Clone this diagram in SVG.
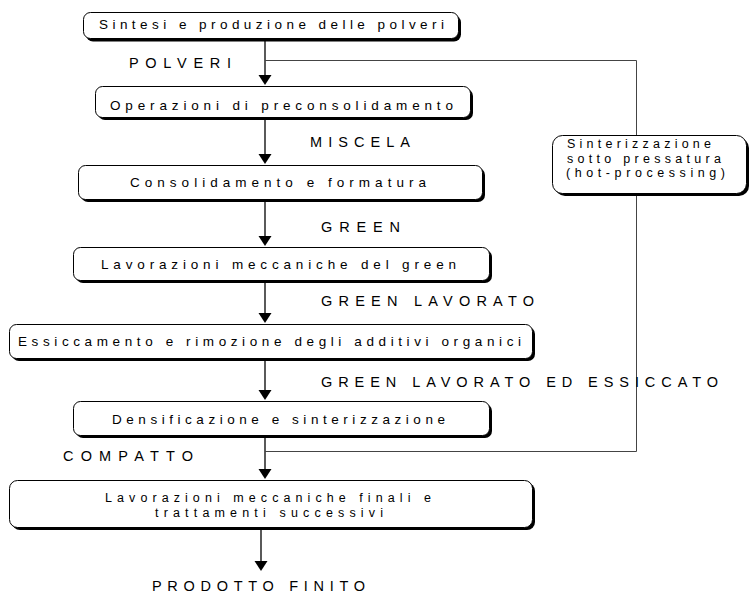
<svg xmlns="http://www.w3.org/2000/svg" width="750" height="595" viewBox="0 0 750 595">
<style>
.box{fill:#fff;stroke:#000;stroke-width:1}
.sh{fill:#000}
.t{font-family:"Liberation Sans",Arial,sans-serif;font-size:13.5px;fill:#000}
.s{font-family:"Liberation Sans",Arial,sans-serif;font-size:12.5px;fill:#000}
.l{font-family:"Liberation Sans",Arial,sans-serif;font-size:14.5px;fill:#000}
.ln{stroke:#000;stroke-width:1.3;fill:none}
.fb{stroke:#444;stroke-width:1;fill:none}
.hd{fill:#000}
</style>
<rect width="750" height="595" fill="#fff"/>
<g id="connectors">
<path class="ln" d="M265,41V76"/><polygon class="hd" points="258.5,75 271.5,75 265,85"/>
<path class="ln" d="M265,120V155"/><polygon class="hd" points="258.5,154 271.5,154 265,164"/>
<path class="ln" d="M265,202V237"/><polygon class="hd" points="258.5,236 271.5,236 265,246"/>
<path class="ln" d="M265,283V314"/><polygon class="hd" points="258.5,313 271.5,313 265,323"/>
<path class="ln" d="M265,361V391"/><polygon class="hd" points="258.5,390 271.5,390 265,400"/>
<path class="ln" d="M265,438V470"/><polygon class="hd" points="258.5,469 271.5,469 265,479"/>
<path class="ln" d="M261,530V562"/><polygon class="hd" points="254.5,561 267.5,561 261,571"/>
<path class="fb" d="M265,60.5H636.5V135"/>
<path class="fb" d="M636.5,196V451.5H265"/>
</g>
<g id="lbl-polveri"><text class="l" x="129" y="68" textLength="102" lengthAdjust="spacing">POLVERI</text></g>
<g id="lbl-miscela"><text class="l" x="310" y="147" textLength="100" lengthAdjust="spacing">MISCELA</text></g>
<g id="lbl-green"><text class="l" x="321" y="232" textLength="79" lengthAdjust="spacing">GREEN</text></g>
<g id="lbl-green-lav"><text class="l" x="321" y="306" textLength="213" lengthAdjust="spacing">GREEN LAVORATO</text></g>
<g id="lbl-green-ess"><text class="l" x="321" y="387" textLength="397" lengthAdjust="spacing">GREEN LAVORATO ED ESSICCATO</text></g>
<g id="lbl-compatto"><text class="l" x="63" y="461" textLength="130" lengthAdjust="spacing">COMPATTO</text></g>
<g id="lbl-prodotto"><text class="l" x="152" y="591" textLength="213" lengthAdjust="spacing">PRODOTTO FINITO</text></g>
<g id="n1">
<rect class="sh" x="86" y="15.5" width="375" height="26" rx="7"/>
<rect class="box" x="83.5" y="12.5" width="375" height="26" rx="7"/>
<text class="t" x="99" y="28.5" textLength="345" lengthAdjust="spacing">Sintesi e produzione delle polveri</text>
</g>
<g id="n2">
<rect class="sh" x="98" y="89" width="375" height="31" rx="7"/>
<rect class="box" x="95.5" y="86.5" width="375" height="31" rx="7"/>
<text class="t" x="110" y="110" textLength="343" lengthAdjust="spacing">Operazioni di preconsolidamento</text>
</g>
<g id="n3">
<rect class="sh" x="81" y="168" width="404" height="34" rx="7"/>
<rect class="box" x="78.5" y="165.5" width="404" height="34" rx="7"/>
<text class="t" x="130" y="187" textLength="296" lengthAdjust="spacing">Consolidamento e formatura</text>
</g>
<g id="n4">
<rect class="sh" x="76" y="250" width="416" height="33" rx="7"/>
<rect class="box" x="73.5" y="247.5" width="416" height="33" rx="7"/>
<text class="t" x="101" y="268.5" textLength="355" lengthAdjust="spacing">Lavorazioni meccaniche del green</text>
</g>
<g id="n5">
<rect class="sh" x="12" y="327" width="523" height="34" rx="7"/>
<rect class="box" x="9.5" y="324.5" width="523" height="34" rx="7"/>
<text class="t" x="18" y="346" textLength="503" lengthAdjust="spacing">Essiccamento e rimozione degli additivi organici</text>
</g>
<g id="n6">
<rect class="sh" x="76" y="404" width="416" height="34" rx="7"/>
<rect class="box" x="73.5" y="401.5" width="416" height="34" rx="7"/>
<text class="t" x="112" y="423.5" textLength="333" lengthAdjust="spacing">Densificazione e sinterizzazione</text>
</g>
<g id="n7">
<rect class="sh" x="12" y="483" width="523" height="47" rx="8"/>
<rect class="box" x="9.5" y="480.5" width="523" height="47" rx="8"/>
<text class="s" x="105" y="502" textLength="326" lengthAdjust="spacing">Lavorazioni meccaniche finali e</text>
<text class="s" x="155" y="516.5" textLength="228" lengthAdjust="spacing">trattamenti successivi</text>
</g>
<g id="n-side">
<rect class="sh" x="555" y="138" width="194" height="58" rx="10"/>
<rect class="box" x="552.5" y="135.5" width="194" height="58" rx="10"/>
<text class="s" x="567" y="148" textLength="144" lengthAdjust="spacing">Sinterizzazione</text>
<text class="s" x="567" y="162.5" textLength="154" lengthAdjust="spacing">sotto pressatura</text>
<text class="s" x="566" y="177" textLength="159" lengthAdjust="spacing">(hot-processing)</text>
</g>
</svg>
